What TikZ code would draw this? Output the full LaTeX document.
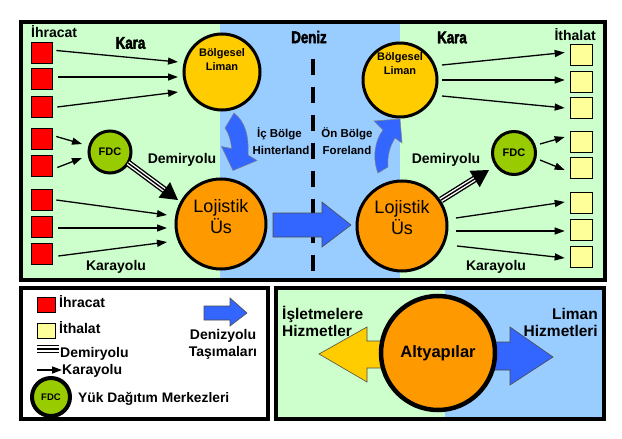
\documentclass[tikz,border=0pt]{standalone}
\usepackage{fontspec}
\usepackage{graphicx}
\setmainfont{Liberation Sans}
\newfontfamily\titlefont{Liberation Sans}[FakeStretch=0.78,BoldFeatures={FakeBold=2.5}]
\usetikzlibrary{arrows.meta}
\definecolor{lgreen}{HTML}{CCFFCC}
\definecolor{lblue}{HTML}{99CCFF}
\definecolor{sqred}{HTML}{FF0000}
\definecolor{sqyel}{HTML}{FFFF99}
\definecolor{cyel}{HTML}{FFCC00}
\definecolor{corange}{HTML}{FF9900}
\definecolor{cfdc}{HTML}{99CC00}
\definecolor{abl}{HTML}{3366FF}
\begin{document}
\begin{tikzpicture}[x=1pt,y=-1pt,
  frame/.style={line width=4pt},
  redsq/.style={draw=black,line width=0.6pt,fill=sqred,minimum width=21pt,minimum height=21pt,inner sep=0pt},
  yelsq/.style={draw=black,line width=0.6pt,fill=sqyel,minimum width=22pt,minimum height=21pt,inner sep=0pt},
  circ/.style={circle,draw=black,line width=3pt,inner sep=0pt},
  karr/.style={line width=1.3pt,-{Triangle[length=10pt,width=7pt]}},
  lab/.style={font=\bfseries\fontsize{14}{16}\selectfont,inner sep=0pt},
  small/.style={font=\bfseries\fontsize{11.5}{14}\selectfont,inner sep=0pt,align=center},
  big/.style={font=\fontsize{18}{21}\selectfont,inner sep=0pt,align=center},
  title/.style={font=\titlefont\bfseries\fontsize{17}{20}\selectfont,inner sep=0pt},
  blockarr/.style={draw=black!70,line width=0.6pt}
]
\useasboundingbox (0,0) rectangle (622,439);
% ---------- top panel ----------
\fill[lgreen] (21,22) rectangle (220,279.5);
\fill[lblue] (220,22) rectangle (400,279.5);
\fill[lgreen] (400,22) rectangle (604.7,279.5);
\draw[line width=3.2pt,dash pattern=on 16pt off 12pt] (313,59) -- (313,278);
\draw[frame] (21,22) rectangle (604.7,279.5);

\node[title] (deniz) at (309,37) {Deniz};
\node[title] (karaL) at (130.5,43) {Kara};
\node[title] (karaR) at (452,37.5) {Kara};
\node[lab,anchor=base west] (ihr) at (31,37) {İhracat};
\node[lab,anchor=base east] (ith) at (596,40) {İthalat};

% squares
\node[redsq] (r1) at (41.5,52.5) {};
\node[redsq] (r2) at (41.5,78.5) {};
\node[redsq] (r3) at (41.5,106.5) {};
\node[redsq] (r4) at (41.5,138.5) {};
\node[redsq] (r5) at (41.5,165.5) {};
\node[redsq] (r6) at (41.5,199.5) {};
\node[redsq] (r7) at (41.5,226.5) {};
\node[redsq] (r8) at (41.5,253.5) {};
\node[yelsq] (y1) at (581,54.5) {};
\node[yelsq] (y2) at (581,81.5) {};
\node[yelsq] (y3) at (581,107.5) {};
\node[yelsq] (y4) at (581,141.5) {};
\node[yelsq] (y5) at (581,167.5) {};
\node[yelsq] (y6) at (581,203) {};
\node[yelsq] (y7) at (581,229.5) {};
\node[yelsq] (y8) at (581,256.5) {};

% big sea arrow
\filldraw[fill=abl,blockarr] (273,213) -- (322,213) -- (322,202) -- (351,225) -- (322,247) -- (322,237) -- (273,237) -- cycle;

% circles
\node[circ,fill=cyel,minimum size=76pt] (bl1) at (222,72) {};
\node[circ,fill=cyel,minimum size=74pt] (bl2) at (400,80) {};
\node[circ,fill=corange,minimum size=90pt] (lu1) at (221,224) {};
\node[circ,fill=corange,minimum size=90pt] (lu2) at (402,226) {};
\node[circ,fill=cfdc,minimum size=42pt] (fdc1) at (110,152) {};
\node[circ,fill=cfdc,minimum size=43pt] (fdc2) at (514,153) {};
\node[font=\bfseries\fontsize{11}{14}\selectfont,align=center,inner sep=0pt] (bl1t) at (222,60) {Bölgesel\\Liman};
\node[font=\bfseries\fontsize{11}{14}\selectfont,align=center,inner sep=0pt] (bl2t) at (400,63.5) {Bölgesel\\Liman};
\node[big] (lu1t) at (221,217) {Lojistik\\Üs};
\node[big] (lu2t) at (402,218) {Lojistik\\Üs};
\node[font=\bfseries\fontsize{11}{13}\selectfont,inner sep=0pt] (fdc1t) at (fdc1) {FDC};
\node[font=\bfseries\fontsize{11}{13}\selectfont,inner sep=0pt] (fdc2t) at (fdc2) {FDC};

% road arrows left
\draw[karr] ([shift={(4,-2)}]r1.east) -- ([shift={(-44,-10)}]bl1.center);
\draw[karr] ([shift={(6,-1.5)}]r2.east) -- ([shift={(-44,5)}]bl1.center);
\draw[karr] ([shift={(5,0.5)}]r3.east) -- ([shift={(-44,20)}]bl1.center);
\draw[karr] ([shift={(4,-2)}]r4.east) -- ([shift={(-28,-8)}]fdc1.center);
\draw[karr] ([shift={(5,2)}]r5.east) -- ([shift={(-28,6)}]fdc1.center);
\draw[karr] ([shift={(4,0.5)}]r6.east) -- ([shift={(-54,-9)}]lu1.center);
\draw[karr] ([shift={(6,1.5)}]r7.east) -- ([shift={(-54,4)}]lu1.center);
\draw[karr] ([shift={(6,2.5)}]r8.east) -- ([shift={(-54,18)}]lu1.center);
% road arrows right
\draw[karr] ([shift={(42,-15)}]bl2.center) -- ([shift={(-5,-2)}]y1.west);
\draw[karr] ([shift={(42,0)}]bl2.center) -- ([shift={(-5,-1.5)}]y2.west);
\draw[karr] ([shift={(42,16)}]bl2.center) -- ([shift={(-5,0.5)}]y3.west);
\draw[karr] ([shift={(26,-9)}]fdc2.center) -- ([shift={(-5,-4.5)}]y4.west);
\draw[karr] ([shift={(26,7)}]fdc2.center) -- ([shift={(-5,2.5)}]y5.west);
\draw[karr] ([shift={(54,-8)}]lu2.center) -- ([shift={(-5,-1)}]y6.west);
\draw[karr] ([shift={(54,5)}]lu2.center) -- ([shift={(-5,1.5)}]y7.west);
\draw[karr] ([shift={(55,20)}]lu2.center) -- ([shift={(-5,1.5)}]y8.west);

% rail arrows (triple line)
\coordinate (ra1) at ([shift={(18,11)}]fdc1.center);
\coordinate (rb1) at ([shift={(-43,-24)}]lu1.center);
\coordinate (ra2) at ([shift={(39,-26)}]lu2.center);
\coordinate (rb2) at ([shift={(-25,17)}]fdc2.center);
\foreach \a/\b in {ra1/rb1,ra2/rb2}{
  \draw[line width=7pt,shorten >=14pt] (\a) -- (\b);
  \draw[line width=4.2pt,white,shorten >=13pt] (\a) -- (\b);
  \draw[line width=1.4pt,-{Triangle[length=17pt,width=19pt]}] (\a) -- (\b);
}

% curved arrows
\filldraw[fill=abl,draw=black!50,line width=0.5pt] (225,128) -- (234,113) .. controls (246,122) and (249,138) .. (248,155) -- (257,160.5) -- (233,170.5) -- (221.5,146.5) -- (231.5,148.5) .. controls (231,140) and (228,132) .. (225,128) -- cycle;
\filldraw[fill=abl,draw=black!50,line width=0.5pt] (378,173) .. controls (372,158) and (375,140) .. (383,130) -- (374,121) -- (400,119) -- (402,143) -- (395,138) .. controls (390,146) and (387,156) .. (388,167) -- cycle;

% labels top
\node[lab,anchor=base] (demL) at (182,163) {Demiryolu};
\node[lab,anchor=base] (karyL) at (116,270) {Karayolu};
\node[lab,anchor=base] (demR) at (446,163) {Demiryolu};
\node[lab,anchor=base] (karyR) at (496,270.5) {Karayolu};
\node[small,anchor=base] (icb) at (279.5,137) {İç Bölge};
\node[small,anchor=base] (hint) at (281,154) {Hinterland};
\node[small,anchor=base] (onb) at (347,137) {Ön Bölge};
\node[small,anchor=base] (fore) at (347,154) {Foreland};

% ---------- bottom left legend ----------
\fill[white] (21,288) rectangle (267.5,419);
\draw[frame] (21,288) rectangle (267.5,419);
\node[draw=black,line width=0.6pt,fill=sqred,minimum width=18pt,minimum height=15pt,inner sep=0pt] (lr) at (46.5,304.5) {};
\node[lab,anchor=base west] (lrt) at (59,307) {İhracat};
\node[draw=black,line width=0.6pt,fill=sqyel,minimum width=18pt,minimum height=15pt,inner sep=0pt] (ly) at (46.5,331) {};
\node[lab,anchor=base west] (lyt) at (59,333) {İthalat};
\coordinate (lda) at (37,352.5);
\coordinate (ldb) at (59,352.5);
\draw[line width=1.8pt] (lda) -- (ldb);
\draw[line width=1.8pt] ([yshift=3.5]lda) -- ([yshift=3.5]ldb);
\draw[line width=1.8pt] ([yshift=7]lda) -- ([yshift=7]ldb);
\node[lab,anchor=base west] (ldt) at (60,357) {Demiryolu};
\coordinate (lka) at (37,370);
\coordinate (lkb) at (62,370);
\draw[karr] (lka) -- (lkb);
\node[lab,anchor=base west] (lkt) at (62,374) {Karayolu};
\node[circ,fill=cfdc,line width=4pt,minimum size=38pt] (lf) at (51,397) {};
\node[font=\bfseries\fontsize{9.5}{11}\selectfont,inner sep=0pt] (lft) at (lf) {FDC};
\node[lab,anchor=base west,font=\bfseries\fontsize{13.8}{16}\selectfont] (lfd) at (78,402) {Yük Dağıtım Merkezleri};
\filldraw[fill=abl,blockarr] (204,306) -- (230,306) -- (230,298) -- (247,313) -- (230,326) -- (230,320) -- (204,320) -- cycle;
\node[lab,anchor=base] (ldz) at (223,339) {Denizyolu};
\node[lab,anchor=base] (ldz2) at (223,356) {Taşımaları};

% ---------- bottom right ----------
\fill[lgreen] (276,288) rectangle (445,418.5);
\fill[lblue] (445,288) rectangle (604,418.5);
\draw[frame] (276,288) rectangle (604,418.5);
\filldraw[fill=cyel,blockarr] (390,341) -- (367,341) -- (367,327) -- (319,354) -- (367,382) -- (367,368) -- (390,368) -- cycle;
\filldraw[fill=abl,blockarr] (490,342) -- (510,342) -- (510,327) -- (553,357) -- (510,385) -- (510,370) -- (490,370) -- cycle;
\node[circ,fill=corange,line width=4.5pt,minimum size=114pt] (alt) at (438,353) {};
\node[font=\bfseries\fontsize{16.5}{20}\selectfont,inner sep=0pt] (altt) at (alt) {Altyapılar};
\node[lab,anchor=base west,font=\bfseries\fontsize{15.5}{18}\selectfont] (isl) at (282,319) {İşletmelere};
\node[lab,anchor=base west,font=\bfseries\fontsize{15.5}{18}\selectfont] (hiz) at (282,336) {Hizmetler};
\node[lab,anchor=base east,font=\bfseries\fontsize{15.5}{18}\selectfont] (lim) at (598,319) {Liman};
\node[lab,anchor=base east,font=\bfseries\fontsize{15.5}{18}\selectfont] (hiz2) at (598,336) {Hizmetleri};
\end{tikzpicture}
\end{document}
